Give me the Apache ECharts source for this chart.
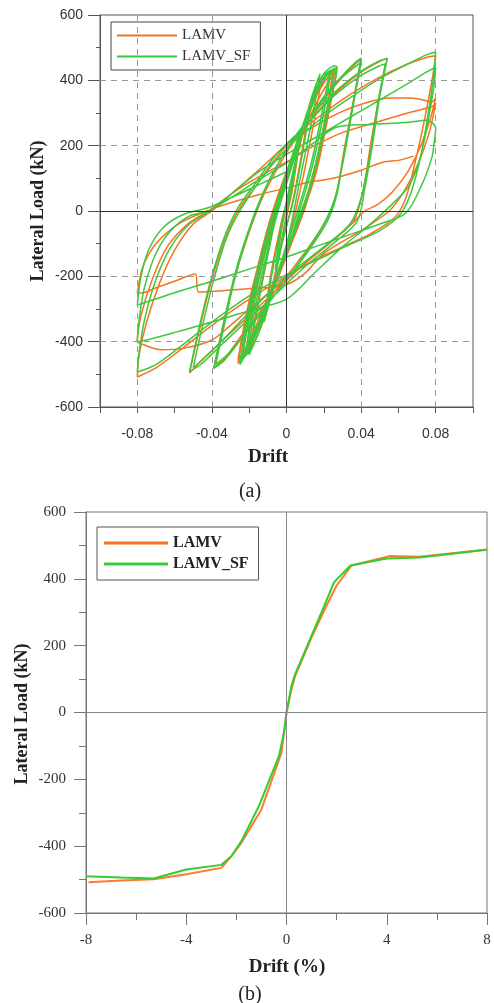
<!DOCTYPE html>
<html>
<head>
    <meta charset="utf-8">
    <title>LAMV hysteresis and backbone</title>
    <style type="text/css">
        body {
            margin: 0;
            background: #fff;
        }
        #main {
            width: 494px;
            height: 1003px;
        }
    </style>
</head>
<body>
    <div id="main"></div>
    <script src="https://cdn.jsdelivr.net/npm/echarts@6/dist/echarts.min.js"></script>
    <script>
        // ---- (a) hysteresis, drift (-) vs lateral load (kN) ----
        var lamvCyclic = [
            [0,0],[0.003,90],[0.006,170],[0.003,60],[0,-20],[-0.003,-110],[-0.006,-190],[-0.003,-70],[0,20],
            [0.005,150],[0.009,250],[0.012,310],[0.008,170],[0.003,20],[-0.003,-110],[-0.008,-240],[-0.012,-330],[-0.008,-180],[-0.003,-40],[0.002,70],
            [0.008,220],[0.014,340],[0.019,410],[0.014,250],[0.008,80],[0.001,-90],[-0.007,-240],[-0.014,-360],[-0.02,-430],[-0.015,-270],[-0.008,-70],[-0.002,80],
            [0.006,210],[0.014,330],[0.021,400],[0.025,425],[0.027,440],[0.022,290],[0.016,130],[0.01,10],[0.002,-110],[-0.007,-240],[-0.015,-350],[-0.022,-430],[-0.026,-466],[-0.021,-310],[-0.015,-160],[-0.009,-30],[-0.002,90],
            [0.007,220],[0.016,330],[0.023,400],[0.027,430],[0.022,280],[0.016,120],[0.009,0],[0,-120],[-0.009,-250],[-0.017,-360],[-0.024,-440],[-0.026,-455],[-0.021,-300],[-0.014,-140],[-0.008,-20],[0,110],
            [0.008,230],[0.015,340],[0.021,410],[0.025,430],[0.021,290],[0.015,130],[0.009,10],[0.001,-110],[-0.008,-250],[-0.016,-360],[-0.022,-440],[-0.018,-290],[-0.012,-130],[-0.006,-10],[0.001,110],
            [0.01,250],[0.02,340],[0.03,410],[0.037,450],[0.04,465],[0.036,340],[0.031,190],[0.027,60],[0.022,-20],[0.012,-110],[0,-200],[-0.012,-290],[-0.024,-380],[-0.033,-450],[-0.039,-480],[-0.034,-350],[-0.028,-210],[-0.021,-80],[-0.013,40],[-0.004,140],
            [0.006,230],[0.016,300],[0.028,370],[0.04,425],[0.05,458],[0.054,468],[0.05,360],[0.045,200],[0.041,60],[0.036,-30],[0.025,-90],[0.01,-160],[-0.005,-240],[-0.02,-320],[-0.035,-400],[-0.046,-460],[-0.052,-496],[-0.047,-370],[-0.041,-230],[-0.034,-100],[-0.026,0],[-0.016,80],[-0.006,160],
            [0.005,230],[0.02,300],[0.035,360],[0.05,410],[0.065,450],[0.075,470],[0.08,475],[0.078,400],[0.074,280],[0.069,150],[0.064,40],[0.058,-20],[0.045,-70],[0.03,-110],[0.015,-150],[0,-200],[-0.02,-270],[-0.04,-350],[-0.058,-430],[-0.07,-480],[-0.08,-508],
            [-0.079,-440],[-0.075,-340],[-0.068,-220],[-0.06,-120],[-0.05,-40],[-0.04,0],[-0.028,60],[-0.014,130],[0,202],
            [0.015,260],[0.03,305],[0.045,335],[0.055,346],[0.065,346],[0.071,343],[0.078,334],[0.08,346],[0.077,280],[0.072,200],[0.065,120],[0.057,60],[0.049,20],[0.042,0],[0.035,-40],[0.025,-90],[0.01,-160],[-0.005,-230],[-0.02,-300],[-0.03,-350],[-0.04,-395],[-0.054,-419],[-0.067,-425],[-0.079,-404],[-0.08,-400],
            [-0.078,-320],[-0.072,-210],[-0.064,-110],[-0.053,-40],[-0.042,0],[-0.025,70],[-0.01,120],[0,150],[0.015,200],[0.03,240],[0.05,275],[0.065,300],[0.078,320],[0.08,330],[0.077,250],[0.071,150],[0.063,60],[0.055,0],[0.04,-60],[0.02,-130],[0.01,-190],[0,-225],
            [-0.016,-236],[-0.03,-242],[-0.047,-248],[-0.049,-193],[-0.06,-215],[-0.07,-235],[-0.078,-251],[-0.08,-251],
            [-0.077,-170],[-0.07,-100],[-0.058,-40],[-0.045,-5],[-0.03,25],[-0.015,50],[0,70],[0.01,86],[0.025,100],[0.04,125],[0.052,150],[0.06,155],[0.068,168]
        ];
        var lamvSfCyclic = [
            [0,0],[0.003,100],[0.006,180],[0.003,70],[0,-10],[-0.003,-100],[-0.006,-180],[-0.003,-60],[0,30],
            [0.005,160],[0.009,260],[0.013,330],[0.009,190],[0.004,40],[-0.002,-90],[-0.007,-230],[-0.012,-340],[-0.008,-200],[-0.003,-50],[0.002,80],
            [0.008,230],[0.013,340],[0.018,420],[0.013,260],[0.007,90],[0.001,-80],[-0.007,-230],[-0.014,-360],[-0.02,-440],[-0.015,-280],[-0.008,-80],[-0.002,70],
            [0.007,230],[0.014,350],[0.02,420],[0.026,445],[0.027,440],[0.022,300],[0.016,140],[0.01,20],[0.002,-100],[-0.007,-230],[-0.015,-350],[-0.021,-430],[-0.025,-470],[-0.021,-320],[-0.015,-170],[-0.009,-40],[-0.002,80],
            [0.006,220],[0.014,340],[0.021,410],[0.026,435],[0.021,290],[0.015,130],[0.009,10],[0.001,-110],[-0.008,-250],[-0.016,-360],[-0.023,-440],[-0.025,-460],[-0.02,-310],[-0.014,-150],[-0.008,-30],[0,100],
            [0.007,230],[0.015,345],[0.021,415],[0.026,438],[0.021,290],[0.015,120],[0.008,0],[0,-120],[-0.009,-260],[-0.017,-370],[-0.023,-445],[-0.024,-455],[-0.019,-300],[-0.013,-140],[-0.007,-20],[0.001,110],
            [0.008,240],[0.015,350],[0.02,410],[0.023,425],[0.019,300],[0.013,140],[0.007,20],[0,-110],[-0.009,-260],[-0.016,-370],[-0.021,-440],[-0.017,-300],[-0.011,-140],[-0.005,-10],[0.002,120],
            [0.009,250],[0.016,360],[0.021,420],[0.024,432],[0.02,300],[0.014,140],[0.008,20],[0.001,-110],[-0.008,-250],[-0.015,-360],[-0.022,-445],[-0.018,-300],[-0.012,-140],[-0.006,-20],[0.001,110],
            [0.01,260],[0.02,350],[0.03,415],[0.037,455],[0.04,468],[0.036,340],[0.031,180],[0.027,50],[0.022,-30],[0.012,-120],[0,-210],[-0.012,-300],[-0.024,-390],[-0.033,-455],[-0.039,-482],[-0.034,-350],[-0.028,-200],[-0.021,-70],[-0.013,50],[-0.004,150],
            [0.008,250],[0.02,345],[0.03,410],[0.04,455],[0.036,330],[0.031,170],[0.026,40],[0.02,-40],[0.01,-130],[0,-210],[-0.015,-320],[-0.03,-430],[-0.038,-470],[-0.033,-340],[-0.027,-190],[-0.02,-60],[-0.012,60],[-0.003,160],
            [0.006,240],[0.016,310],[0.028,375],[0.04,428],[0.05,460],[0.054,466],[0.05,350],[0.046,200],[0.042,70],[0.038,-30],[0.025,-100],[0.01,-170],[-0.005,-250],[-0.02,-330],[-0.035,-410],[-0.046,-470],[-0.052,-492],[-0.047,-360],[-0.041,-220],[-0.034,-90],[-0.026,10],[-0.016,90],[-0.006,170],
            [0.01,260],[0.025,350],[0.04,415],[0.05,445],[0.053,450],[0.049,330],[0.045,180],[0.04,40],[0.034,-40],[0.02,-110],[0,-200],[-0.02,-310],[-0.035,-400],[-0.046,-460],[-0.05,-480],[-0.045,-350],[-0.039,-210],[-0.032,-80],[-0.024,10],[-0.012,110],[0,190],
            [0.02,290],[0.035,350],[0.05,405],[0.065,450],[0.075,478],[0.08,487],[0.079,420],[0.076,300],[0.072,170],[0.067,60],[0.061,-10],[0.05,-60],[0.035,-100],[0.02,-140],[0,-195],[-0.02,-260],[-0.04,-340],[-0.058,-420],[-0.07,-470],[-0.08,-493],
            [-0.079,-430],[-0.076,-330],[-0.07,-210],[-0.062,-110],[-0.052,-40],[-0.041,0],[-0.03,50],[-0.015,120],[0.002,180],
            [0.02,240],[0.035,290],[0.05,340],[0.065,390],[0.075,425],[0.08,440],[0.079,380],[0.076,280],[0.072,170],[0.066,80],[0.059,34],[0.045,-40],[0.03,-110],[0.015,-190],[0,-270],[-0.02,-305],[-0.04,-340],[-0.06,-372],[-0.075,-395],[-0.08,-400],
            [-0.079,-330],[-0.076,-230],[-0.07,-130],[-0.062,-60],[-0.052,-15],[-0.042,0],[-0.03,40],[-0.015,95],[0,147],[0.015,210],[0.027,257],[0.045,265],[0.066,272],[0.075,278],[0.08,254],
            [0.079,200],[0.078,165],[0.073,86],[0.064,-6],[0.05,-40],[0.035,-70],[0.02,-100],[0,-141],[-0.02,-178],[-0.04,-215],[-0.06,-250],[-0.08,-288],
            [-0.078,-200],[-0.074,-120],[-0.066,-50],[-0.055,-10],[-0.042,10],[-0.028,45],[-0.015,80],[0,120]
        ];

        // ---- (b) backbone, drift (%) vs lateral load (kN) ----
        var lamvBackbone = [
            [-7.9,-508],[-6.6,-503],[-5.3,-499],[-4,-484],[-2.6,-465],[-2.2,-430],[-1.8,-390],[-1,-290],[-0.2,-120],
            [0,0],[0.2,70],[0.35,110],[1,225],[1.6,320],[2,380],[2.6,440],[4.1,468],[5.3,466],[8,488]
        ];
        var lamvSfBackbone = [
            [-8,-490],[-6.6,-494],[-5.3,-497],[-4,-470],[-2.6,-456],[-2.2,-430],[-1.8,-385],[-1.1,-280],[-0.3,-130],[-0.1,-60],
            [0,0],[0.2,80],[0.32,110],[1,230],[1.4,300],[1.9,390],[2.55,440],[4,461],[5.3,464],[8,487]
        ];

        var seriesNames = ['LAMV', 'LAMV_SF'];
        var dashedX = [-0.08, -0.04, 0.04, 0.08];
        var dashedY = [-400, -200, 200, 400];

        var ORANGE = '#f4741f';
        var GREEN = '#3ec83e';
        var SERIF = "'Liberation Serif', 'DejaVu Serif', serif";
        var SANS = "'Liberation Sans', Arial, sans-serif";

        var chart = echarts.init(document.getElementById('main'), null, {renderer: 'canvas'});

        function gridLines() {
            var d = [];
            dashedX.forEach(function (v) { d.push({xAxis: v}); });
            dashedY.forEach(function (v) { d.push({yAxis: v}); });
            return d;
        }

        chart.setOption({
            animation: false,
            color: [ORANGE, GREEN],
            grid: [
                {left: 100, top: 15, width: 373, height: 392, show: true, borderColor: '#555', borderWidth: 1},
                {left: 86, top: 512, width: 401, height: 401, show: true, borderColor: '#777', borderWidth: 1}
            ],
            legend: [
                {
                    data: seriesNames,
                    orient: 'vertical',
                    left: 111, top: 22,
                    padding: [6, 10, 6, 6],
                    borderColor: '#444', borderWidth: 1,
                    backgroundColor: '#fff',
                    icon: 'rect', itemWidth: 60, itemHeight: 2, itemGap: 6,
                    textStyle: {fontFamily: SERIF, fontSize: 15, color: '#333'}
                },
                {
                    data: seriesNames,
                    orient: 'vertical',
                    left: 97, top: 527,
                    padding: [8, 10, 8, 7],
                    borderColor: '#555', borderWidth: 1,
                    backgroundColor: '#fff',
                    icon: 'rect', itemWidth: 64, itemHeight: 3, itemGap: 5,
                    textStyle: {fontFamily: SERIF, fontSize: 16, fontWeight: 'bold', color: '#222'}
                }
            ],
            xAxis: [
                {
                    type: 'value', gridIndex: 0, min: -0.1, max: 0.1, interval: 0.02,
                    axisLine: {show: true, onZero: false, lineStyle: {color: '#555'}},
                    axisTick: {show: true, length: 6, lineStyle: {color: '#555'}},
                    splitLine: {show: false},
                    axisLabel: {
                        margin: 20, fontFamily: SANS, fontSize: 14, color: '#333',
                        formatter: function (v) {
                            var k = Math.round(v / 0.02);
                            return (k % 2 === 0 && Math.abs(k) < 5) ? String(+v.toFixed(2)) : '';
                        }
                    }
                },
                {
                    type: 'value', gridIndex: 1, min: -8, max: 8, interval: 4,
                    axisLine: {show: true, onZero: false, lineStyle: {color: '#777'}},
                    axisTick: {show: true, length: 12, lineStyle: {color: '#777'}},
                    minorTick: {show: true, splitNumber: 2, length: 7, lineStyle: {color: '#777'}},
                    splitLine: {show: false},
                    axisLabel: {margin: 20, fontFamily: SERIF, fontSize: 15, color: '#333'}
                }
            ],
            yAxis: [
                {
                    type: 'value', gridIndex: 0, min: -600, max: 600, interval: 200,
                    axisLine: {show: true, onZero: false, lineStyle: {color: '#555'}},
                    axisTick: {show: true, length: 12, lineStyle: {color: '#555'}},
                    minorTick: {show: true, splitNumber: 2, length: 4, lineStyle: {color: '#555'}},
                    splitLine: {show: false},
                    axisLabel: {margin: 17, fontFamily: SANS, fontSize: 14, color: '#333'}
                },
                {
                    type: 'value', gridIndex: 1, min: -600, max: 600, interval: 200,
                    axisLine: {show: true, onZero: false, lineStyle: {color: '#777'}},
                    axisTick: {show: true, length: 12, lineStyle: {color: '#777'}},
                    minorTick: {show: true, splitNumber: 2, length: 7, lineStyle: {color: '#777'}},
                    splitLine: {show: false},
                    axisLabel: {margin: 20, fontFamily: SERIF, fontSize: 15, color: '#333'}
                }
            ],
            graphic: [
                {type: 'text', x: 268, y: 457, style: {text: 'Drift', font: 'bold 19px ' + SERIF, fill: '#222', textAlign: 'center', textVerticalAlign: 'middle'}},
                {type: 'text', x: 250, y: 492, style: {text: '(a)', font: '20px ' + SERIF, fill: '#222', textAlign: 'center', textVerticalAlign: 'middle'}},
                {type: 'text', x: 38, y: 211, rotation: Math.PI / 2, style: {text: 'Lateral Load (kN)', font: 'bold 18px ' + SERIF, fill: '#222', textAlign: 'center', textVerticalAlign: 'middle'}},
                {type: 'text', x: 287, y: 967, style: {text: 'Drift (%)', font: 'bold 19px ' + SERIF, fill: '#222', textAlign: 'center', textVerticalAlign: 'middle'}},
                {type: 'text', x: 250, y: 995, style: {text: '(b)', font: '20px ' + SERIF, fill: '#222', textAlign: 'center', textVerticalAlign: 'middle'}},
                {type: 'text', x: 22, y: 714, rotation: Math.PI / 2, style: {text: 'Lateral Load (kN)', font: 'bold 18px ' + SERIF, fill: '#222', textAlign: 'center', textVerticalAlign: 'middle'}}
            ],
            series: [
                {
                    type: 'line', xAxisIndex: 0, yAxisIndex: 0, data: [], silent: true, z: 1,
                    markLine: {
                        silent: true, symbol: 'none', label: {show: false},
                        lineStyle: {type: [6, 5], color: '#999', width: 1},
                        data: gridLines()
                    }
                },
                {
                    type: 'line', xAxisIndex: 0, yAxisIndex: 0, data: [], silent: true, z: 1,
                    markLine: {
                        silent: true, symbol: 'none', label: {show: false},
                        lineStyle: {type: 'solid', color: '#333', width: 1},
                        data: [{xAxis: 0}, {yAxis: 0}]
                    }
                },
                {
                    type: 'line', xAxisIndex: 1, yAxisIndex: 1, data: [], silent: true, z: 1,
                    markLine: {
                        silent: true, symbol: 'none', label: {show: false},
                        lineStyle: {type: 'solid', color: '#888', width: 1},
                        data: [{xAxis: 0}, {yAxis: 0}]
                    }
                },
                {
                    name: seriesNames[0], type: 'line', xAxisIndex: 0, yAxisIndex: 0,
                    data: lamvCyclic, showSymbol: false, smooth: 0.3, z: 3,
                    lineStyle: {width: 1.5, color: ORANGE}, itemStyle: {color: ORANGE}
                },
                {
                    name: seriesNames[1], type: 'line', xAxisIndex: 0, yAxisIndex: 0,
                    data: lamvSfCyclic, showSymbol: false, smooth: 0.3, z: 4,
                    lineStyle: {width: 1.5, color: GREEN}, itemStyle: {color: GREEN}
                },
                {
                    name: seriesNames[0], type: 'line', xAxisIndex: 1, yAxisIndex: 1,
                    data: lamvBackbone, showSymbol: false, z: 3,
                    lineStyle: {width: 2, color: '#ff7a2a'}, itemStyle: {color: '#ff7a2a'}
                },
                {
                    name: seriesNames[1], type: 'line', xAxisIndex: 1, yAxisIndex: 1,
                    data: lamvSfBackbone, showSymbol: false, z: 4,
                    lineStyle: {width: 2, color: '#33cc33'}, itemStyle: {color: '#33cc33'}
                }
            ]
        });

        window.addEventListener('resize', function () {
            chart.resize();
        });
    </script>
</body>
</html>
